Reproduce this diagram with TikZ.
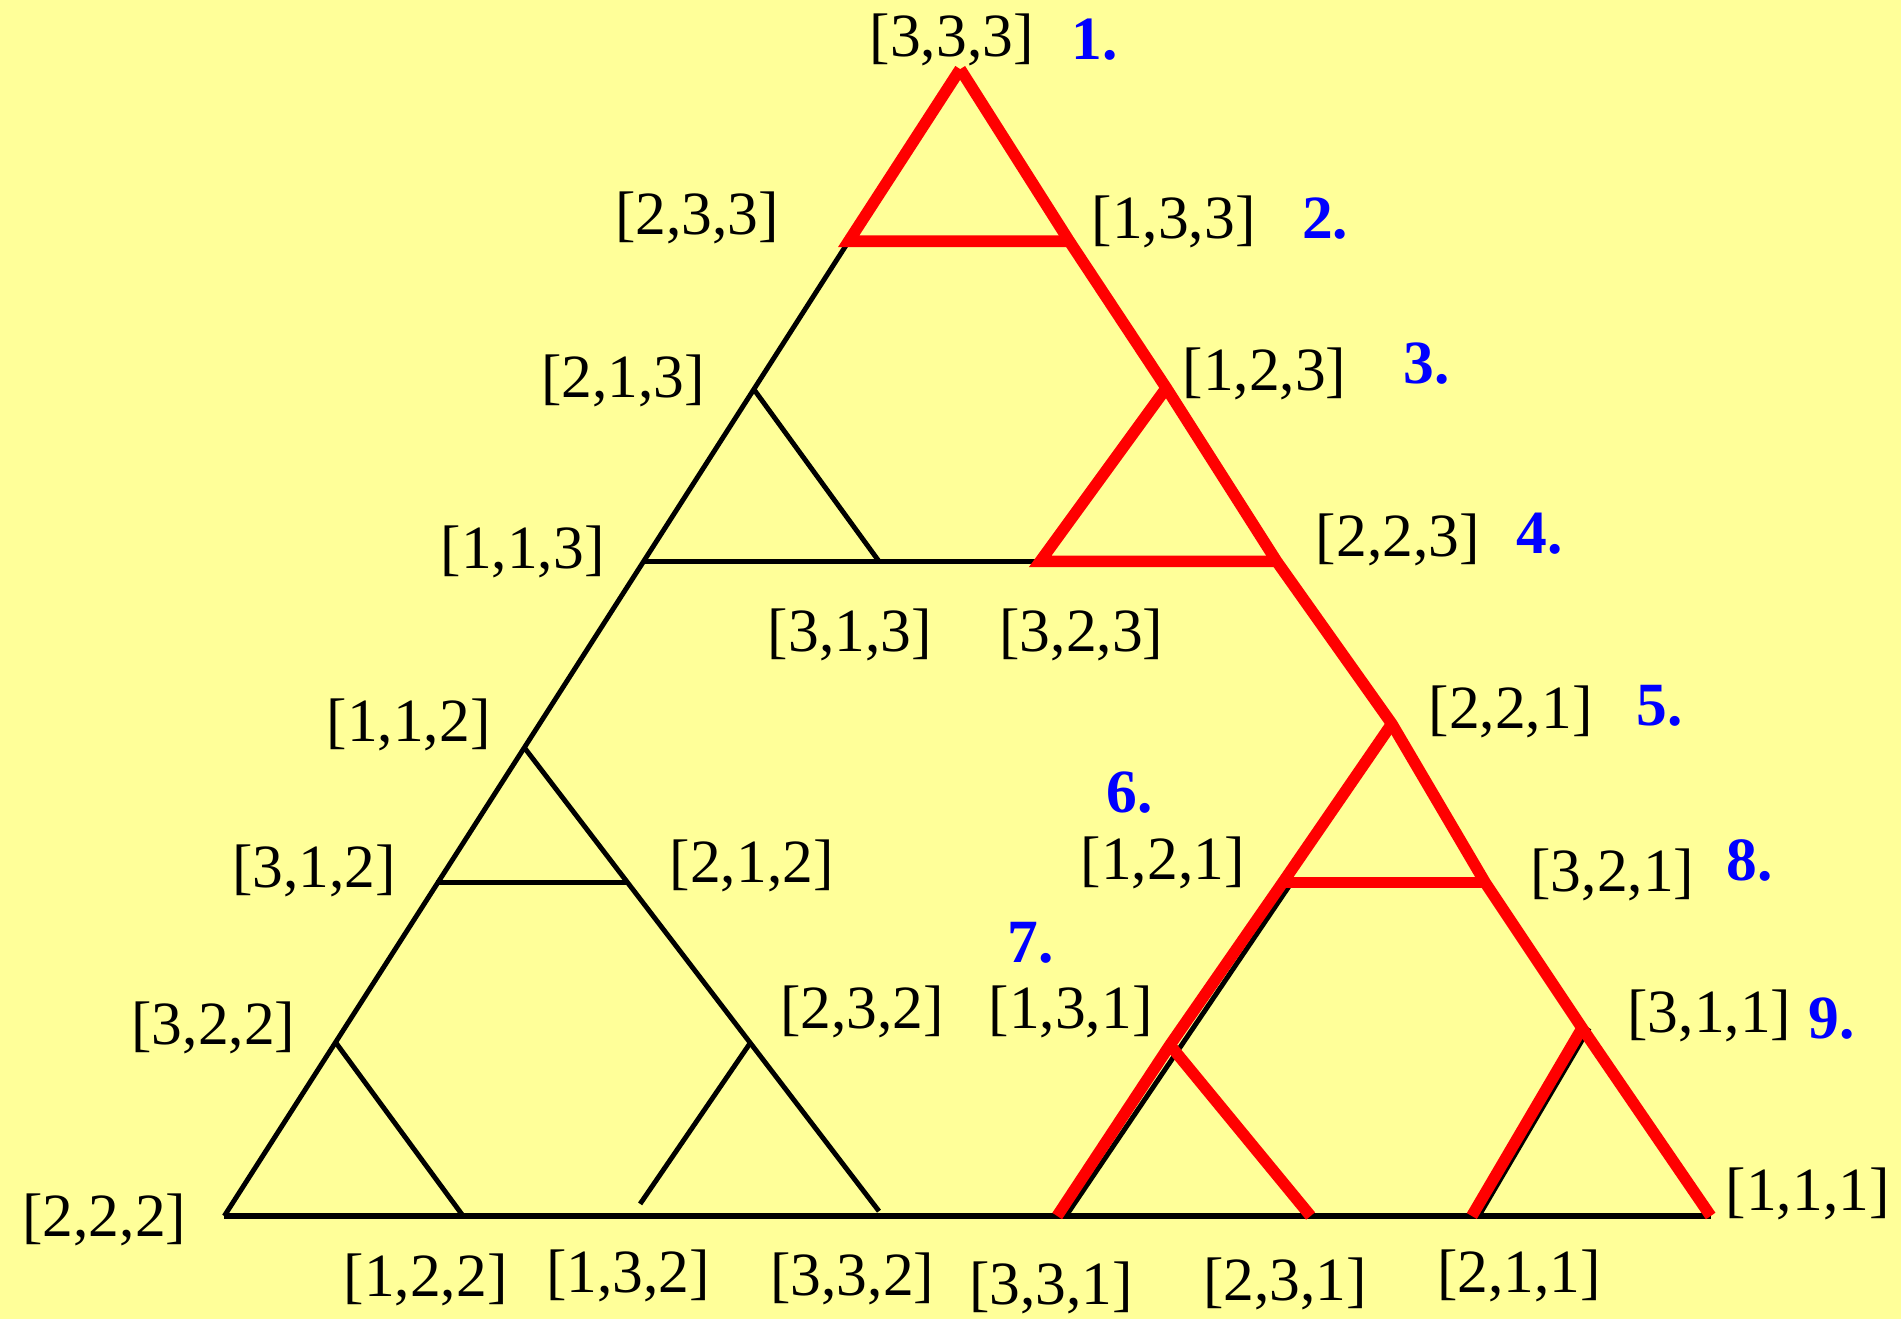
\documentclass[tikz,border=0pt]{standalone}
\usepackage{fontspec}
\setmainfont{Liberation Serif}
\definecolor{bgyellow}{RGB}{255,255,153}
\definecolor{numblue}{RGB}{0,0,255}
\definecolor{pathred}{RGB}{255,0,0}
\begin{document}
\begin{tikzpicture}[x=0.012124cm,y=-0.012124cm,
  blackline/.style={draw=black,line width=1.4pt},
  baseline/.style={draw=black,line width=1.8pt},
  redline/.style={draw=pathred,line width=3.3pt,line join=miter},
  lbl/.style={inner sep=0pt,font=\fontsize{17.5}{20}\selectfont},
  num/.style={inner sep=0pt,text=numblue,font=\fontsize{17.5}{20}\selectfont\bfseries}]
\fill[bgyellow] (0,0) rectangle (1568,1088);
\useasboundingbox (0,0) rectangle (1568,1088);
% vertices
\coordinate (A333) at (792,57);
\coordinate (A233) at (700,199);
\coordinate (A133) at (882,199);
\coordinate (A213) at (621,320);
\coordinate (A123) at (962,320);
\coordinate (A113) at (530,463);
\coordinate (A313) at (725,463);
\coordinate (A323) at (858,463);
\coordinate (A223) at (1053,463);
\coordinate (A112) at (432,616);
\coordinate (A221) at (1148,597);
\coordinate (A312) at (360,728);
\coordinate (A212) at (516,728);
\coordinate (A121) at (1058,728);
\coordinate (A321) at (1225,728);
\coordinate (A322) at (277,860);
\coordinate (A232) at (619,860);
\coordinate (A131) at (965,862);
\coordinate (A311) at (1305,848);
\coordinate (A222) at (185,1003);
\coordinate (A122) at (382,1003);
\coordinate (E132) at (528,993);
\coordinate (E332) at (725,999);
\coordinate (A331) at (872,1003);
\coordinate (A231) at (1081,1003);
\coordinate (A211) at (1214,1003);
\coordinate (A111) at (1411,1003);
% black structure
\draw[blackline] (A233) -- (A222);
\draw[baseline] (A222) -- (A111);
\draw[blackline] (A113) -- (A323);
\draw[blackline] (A213) -- (A313);
\draw[blackline] (A112) -- (E332);
\draw[blackline] (A312) -- (A212);
\draw[blackline] (A322) -- (A122);
\draw[blackline] (A232) -- (E132);
\draw[blackline] ([xshift=2.5pt]A121) -- ([xshift=2.5pt]A331);
\draw[blackline] ([xshift=2pt]A311) -- ([xshift=2pt]A211);
% red path
\draw[redline] (A333) -- (A133) -- (A123) -- (A223) -- (A221) -- (A321) -- (A311) -- (A111);
\draw[redline] (A133) -- (A233) -- (A333);
\draw[redline] (A123) -- (A323) -- (A223);
\draw[redline] (A221) -- (A121) -- (A131) -- (A331);
\draw[redline] (A121) -- (A321);
\draw[redline] (A131) -- (A231);
\draw[redline] (A311) -- (A211);
% labels
\node[lbl] (L333) at (785,33) {[3,3,3]};
\node[lbl] (L233) at (575,180) {[2,3,3]};
\node[lbl] (L133) at (968,183) {[1,3,3]};
\node[lbl] (L213) at (514,314) {[2,1,3]};
\node[lbl] (L123) at (1043,308) {[1,2,3]};
\node[lbl] (L113) at (431,455) {[1,1,3]};
\node[lbl] (L313) at (701,524) {[3,1,3]};
\node[lbl] (L323) at (892,524) {[3,2,3]};
\node[lbl] (L223) at (1153,445) {[2,2,3]};
\node[lbl] (L112) at (337,598) {[1,1,2]};
\node[lbl] (L221) at (1246,587) {[2,2,1]};
\node[lbl] (L121) at (959,712) {[1,2,1]};
\node[lbl] (L312) at (259,718) {[3,1,2]};
\node[lbl] (L212) at (620,714) {[2,1,2]};
\node[lbl] (L321) at (1330,722) {[3,2,1]};
\node[lbl] (L232) at (711,835) {[2,3,2]};
\node[lbl] (L131) at (883,835) {[1,3,1]};
\node[lbl] (L322) at (176,848) {[3,2,2]};
\node[lbl] (L311) at (1410,838) {[3,1,1]};
\node[lbl] (L222) at (86,1006) {[2,2,2]};
\node[lbl] (L111) at (1491,985) {[1,1,1]};
\node[lbl] (L122) at (351,1056) {[1,2,2]};
\node[lbl] (L132) at (518,1052) {[1,3,2]};
\node[lbl] (L332) at (703,1055) {[3,3,2]};
\node[lbl] (L331) at (867,1062) {[3,3,1]};
\node[lbl] (L231) at (1060,1059) {[2,3,1]};
\node[lbl] (L211) at (1253,1052) {[2,1,1]};
% step numbers
\node[num] (N1) at (903,33) {1.};
\node[num] (N2) at (1093,180) {2.};
\node[num] (N3) at (1177,300) {3.};
\node[num] (N4) at (1270,440) {4.};
\node[num] (N5) at (1369,582) {5.};
\node[num] (N6) at (932,654) {6.};
\node[num] (N7) at (850,778) {7.};
\node[num] (N8) at (1443,710) {8.};
\node[num] (N9) at (1511,840) {9.};
\end{tikzpicture}
\end{document}
